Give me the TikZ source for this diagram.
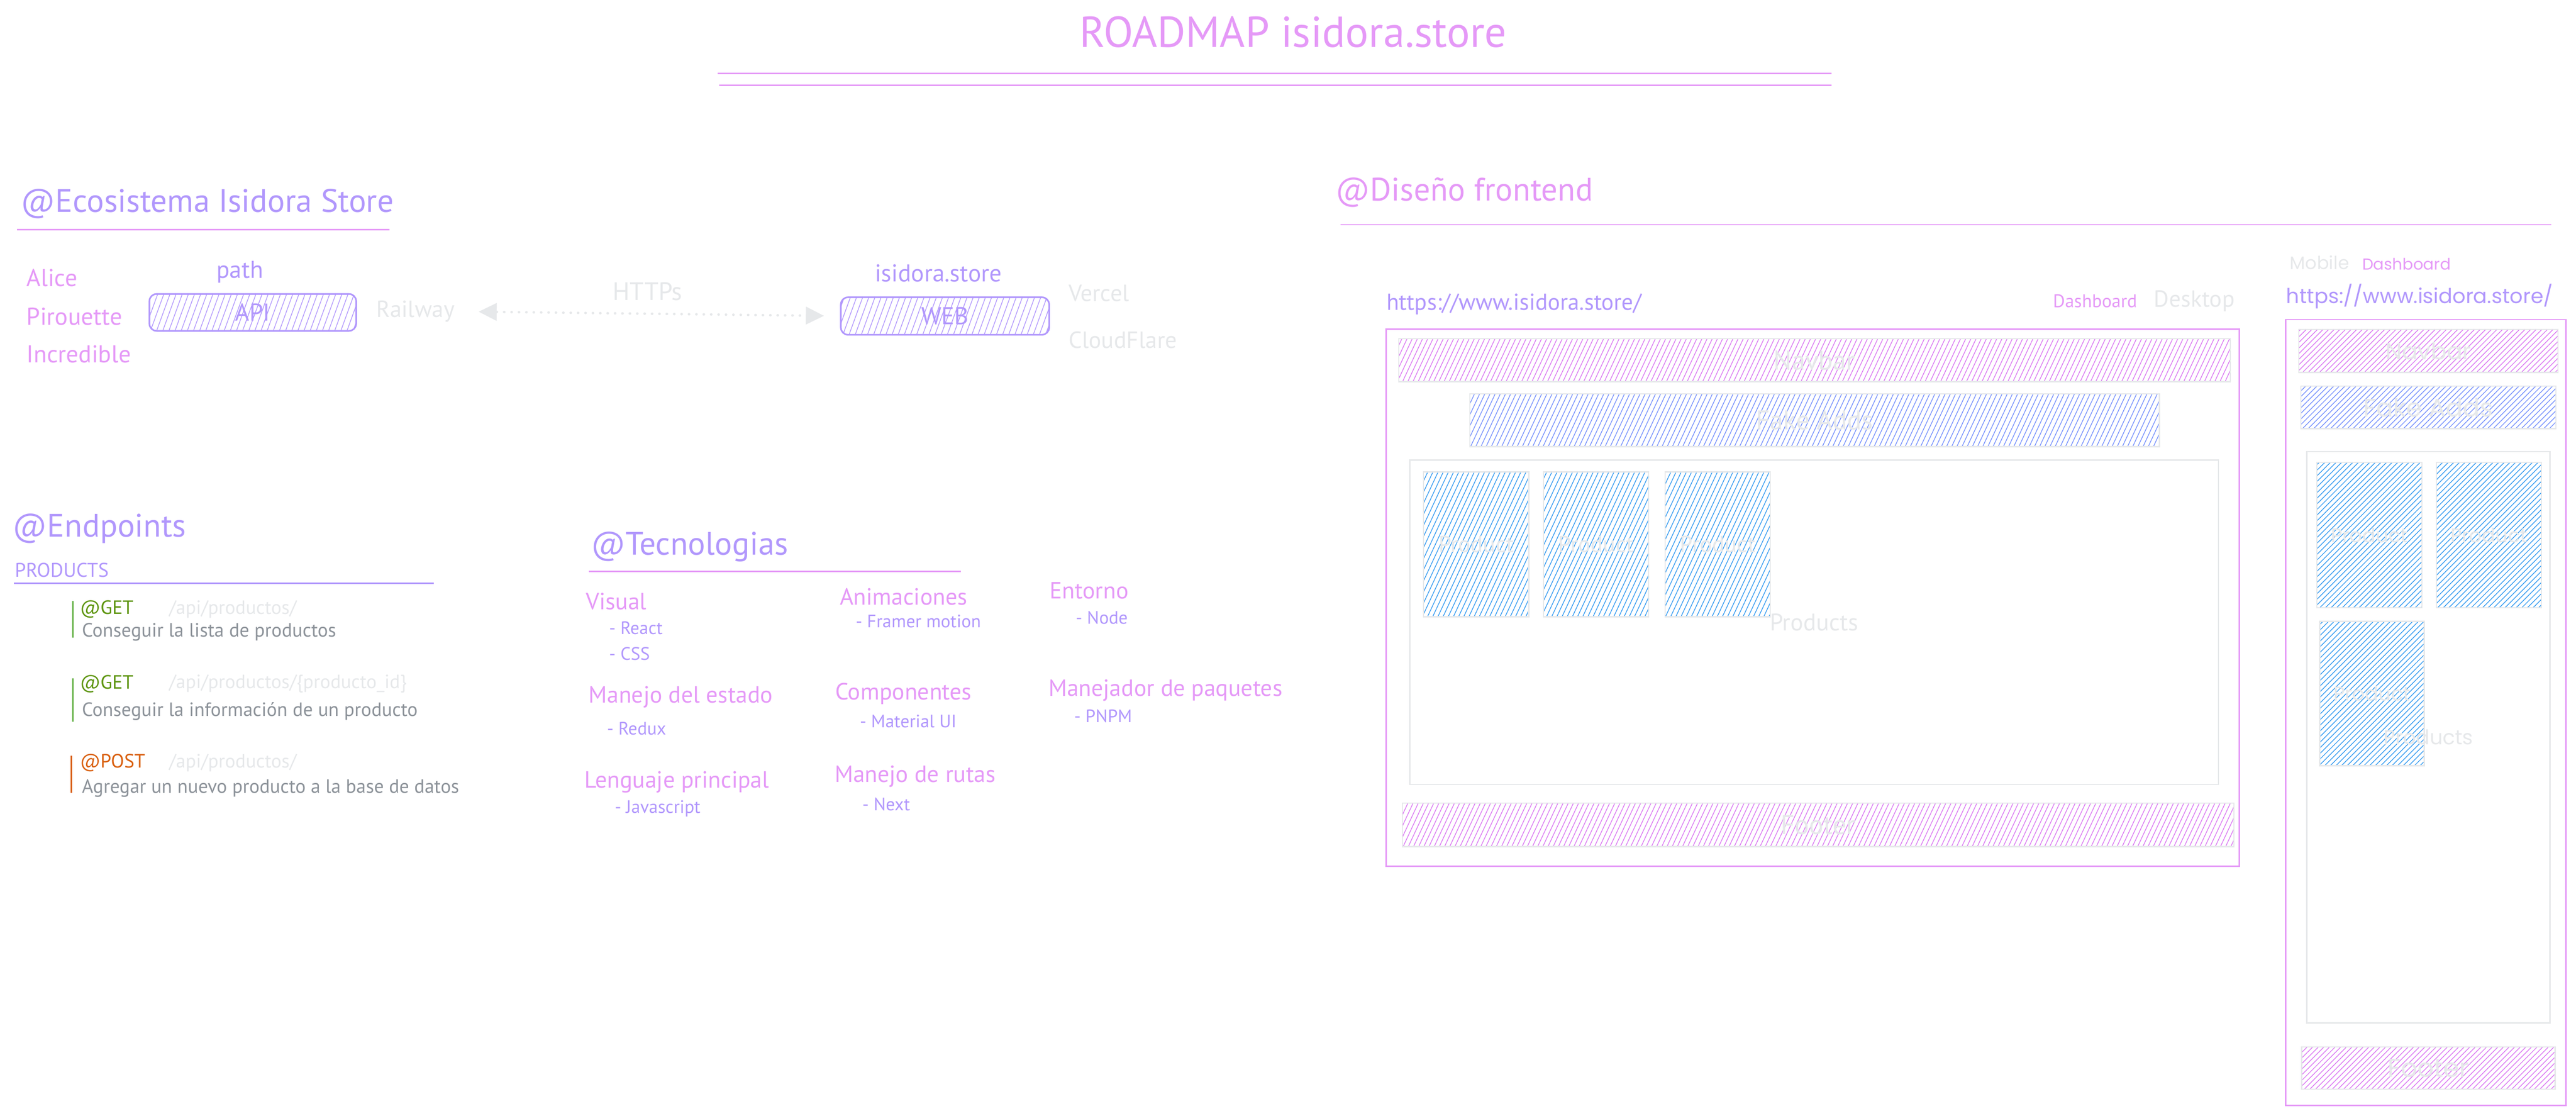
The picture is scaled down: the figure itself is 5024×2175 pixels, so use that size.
\documentclass[tikz,border=0pt]{standalone}
\usepackage{fontspec}
\setmainfont{PT Sans}
\newfontfamily\mobilefont{Poppins}
\usetikzlibrary{positioning,arrows.meta,patterns.meta}

\definecolor{grape}{HTML}{E599F7}
\definecolor{grapehatch}{HTML}{DA77F2}
\definecolor{violetc}{HTML}{B197FC}
\definecolor{indigohatch}{HTML}{748FFC}
\definecolor{bluehatch}{HTML}{339AF0}
\definecolor{ghost}{HTML}{E6E8EA}
\definecolor{slate}{HTML}{8C9299}
\definecolor{getgreen}{HTML}{5C940D}
\definecolor{getbar}{HTML}{69B34C}
\definecolor{postorange}{HTML}{D9600F}

\begin{document}
\begin{tikzpicture}[x=0.01cm, y=-0.01cm,
  every node/.style={inner sep=0pt, outer sep=0pt},
  title/.style={font=\fontsize{24}{28}\selectfont, text=grape},
  section/.style={anchor=west, font=\fontsize{18}{22}\selectfont, text=violetc},
  rule/.style={line width=0.8pt},
  crew/.style={anchor=west, font=\fontsize{13.5}{16}\selectfont, text=grape},
  host/.style={font=\fontsize{13.5}{16}\selectfont, text=violetc},
  infra/.style={anchor=west, font=\fontsize{13}{16}\selectfont, text=ghost},
  service/.style={draw=violetc, line width=0.9pt, rounded corners=4pt,
    pattern={Lines[angle=70,distance=3.2pt,line width=0.4pt]}, pattern color=violetc,
    text=violetc, font=\fontsize{13.5}{16}\selectfont},
  httpslink/.style={draw=ghost, line width=1.4pt, dash pattern=on 0.1pt off 4pt,
    line cap=round, {Triangle[length=10pt,width=10pt,fill=ghost,line width=0pt]}-{Triangle[length=10pt,width=10pt,fill=ghost,line width=0pt]}},
  verb/.style={anchor=west, font=\fontsize{10.7}{13}\selectfont},
  route/.style={anchor=west, font=\fontsize{10.7}{13}\selectfont, text=ghost},
  note/.style={anchor=west, font=\fontsize{10.7}{13}\selectfont, text=slate},
  methodbar/.style={line width=0.7pt},
  topic/.style={anchor=west, font=\fontsize{13}{16}\selectfont, text=grape},
  tool/.style={anchor=west, font=\fontsize{10}{12}\selectfont, text=violetc},
  frame/.style={draw=grape, line width=0.8pt},
  block/.style={draw=ghost, line width=0.7pt, text=ghost, font=\fontsize{15}{18}\selectfont},
  deskhatch/.style={pattern={Lines[angle=65,distance=2.6pt,line width=0.4pt]}},
  mobhatch/.style={pattern={Lines[angle=45,distance=2.2pt,line width=0.4pt]}}]

  \useasboundingbox (0,0) rectangle (5024,2175);

  % title
  \node [title] (roadmap) at (2522,62) {ROADMAP isidora.store};
  \draw [rule, grape] (1400,143) -- (3572,143);
  \draw [rule, grape] (1403,166) -- (3572,166);

  % ecosystem: api, web and where they live
  \begin{scope}
    \node [section] (eco) at (41,397) {@Ecosistema Isidora Store};
    \draw [rule, grape] (33,448) -- (760,448);
    \node [crew] (alice) at (52,542) {Alice};
    \node [crew] (pirouette) at (52,617) {Pirouette};
    \node [crew] (incredible) at (52,690) {Incredible};
    \node [host] (path) at (468,530) {path};
    \node [service, minimum width=4.03cm, minimum height=0.72cm] (api) at (493,609) {API};
    \node [infra] (railway) at (734,607) {Railway};
    \node [host] (store) at (1830,533) {isidora.store};
    \node [service, minimum width=4.06cm, minimum height=0.73cm] (web) at (1843,616) {WEB};
    \node [infra] (vercel) at (2084,572) {Vercel};
    \node [infra] (cloudflare) at (2084,663) {CloudFlare};
    \draw [httpslink, shorten <=0.47cm, shorten >=0.33cm] (railway.east) -- node [above=0.26cm, text=ghost, font=\fontsize{14}{16}\selectfont] (https) {HTTPs} (web.west);
  \end{scope}

  % endpoints
  \begin{scope}
    \node [section] (endpoints) at (25,1030) {@Endpoints};
    \node [anchor=west, text=violetc, font=\fontsize{11}{13}\selectfont] (products) at (29,1111) {PRODUCTS};
    \draw [rule, violetc] (27,1137) -- (846,1137);

    \draw [methodbar, getbar] (142,1172) -- (142,1243);
    \node [verb, text=getgreen] (getall) at (156,1188) {@GET};
    \node [route] (getallroute) at (330,1188) {/api/productos/};
    \node [note] (getallnote) at (160,1232) {Conseguir la lista de productos};

    \draw [methodbar, getbar] (142,1322) -- (142,1407);
    \node [verb, text=getgreen] (getone) at (156,1333) {@GET};
    \node [route] (getoneroute) at (330,1333) {/api/productos/\{producto\_id\}};
    \node [note] (getonenote) at (160,1387) {Conseguir la información de un producto};

    \draw [methodbar, postorange] (139,1473) -- (139,1545);
    \node [verb, text=postorange] (post) at (156,1487) {@POST};
    \node [route] (postroute) at (330,1487) {/api/productos/};
    \node [note] (postnote) at (160,1536) {Agregar un nuevo producto a la base de datos};
  \end{scope}

  % technologies
  \begin{scope}
    \node [section] (tecno) at (1153,1066) {@Tecnologias};
    \draw [rule, grape] (1148,1114) -- (1874,1114);
    \node [topic] (visual) at (1143,1172) {Visual};
    \node [tool] (react) at (1188,1224) {- React};
    \node [tool] (css) at (1188,1274) {- CSS};
    \node [topic] (estado) at (1148,1359) {Manejo del estado};
    \node [tool] (redux) at (1184,1420) {- Redux};
    \node [topic] (lenguaje) at (1140,1524) {Lenguaje principal};
    \node [tool] (js) at (1199,1576) {- Javascript};
    \node [topic] (anim) at (1638,1163) {Animaciones};
    \node [tool] (framer) at (1669,1211) {- Framer motion};
    \node [topic] (comp) at (1629,1352) {Componentes};
    \node [tool] (mui) at (1677,1406) {- Material UI};
    \node [topic] (rutas) at (1628,1513) {Manejo de rutas};
    \node [tool] (next) at (1682,1568) {- Next};
    \node [topic] (entorno) at (2047,1151) {Entorno};
    \node [tool] (node) at (2098,1204) {- Node};
    \node [topic] (paquetes) at (2045,1346) {Manejador de paquetes};
    \node [tool] (pnpm) at (2095,1396) {- PNPM};
  \end{scope}

  % frontend design, desktop
  \begin{scope}
    \node [section, text=grape] (diseno) at (2605,375) {@Diseño frontend};
    \draw [rule, grape] (2614,438) -- (4976,438);
    \node [anchor=west, text=violetc, font=\fontsize{12.8}{15}\selectfont] (deskurl) at (2704,593) {https://www.isidora.store/};
    \node [anchor=west, text=grape, font=\fontsize{10.2}{12}\selectfont] (deskdash) at (4004,587) {Dashboard};
    \node [anchor=west, text=ghost, font=\fontsize{12.9}{15}\selectfont] (desktop) at (4201,587) {Desktop};
    \node [frame, minimum width=16.63cm, minimum height=10.46cm] (deskframe) at (3535,1165) {};
    \node [block, deskhatch, pattern color=grapehatch, minimum width=16.21cm, minimum height=0.84cm] (desknav) at (3539,702) {Navbar};
    \node [block, deskhatch, pattern color=indigohatch, minimum width=13.44cm, minimum height=1.03cm] (deskads) at (3539,819) {Fake Adds};
    \node [block, font=\fontsize{13.3}{16}\selectfont, minimum width=15.76cm, minimum height=6.32cm] (deskproducts) at (3538,1213) {Products};
    \foreach \cx [count=\i] in {2879,3113,3350}
      \node [block, deskhatch, pattern color=bluehatch, font=\fontsize{12.8}{15}\selectfont, minimum width=2.05cm, minimum height=2.82cm] (deskcard\i) at (\cx,1061) {Product};
    \node [block, deskhatch, pattern color=grapehatch, minimum width=16.21cm, minimum height=0.85cm] (deskfooter) at (3546,1608) {Footer};
  \end{scope}

  % frontend design, mobile
  \begin{scope}[every node/.append style={font=\mobilefont}]
    \node [anchor=west, text=ghost, font=\mobilefont\fontsize{10}{12}\selectfont] (mobile) at (4466,512) {Mobile};
    \node [anchor=west, text=grape, font=\mobilefont\fontsize{8.8}{11}\selectfont] (mobdash) at (4607,515) {Dashboard};
    \node [anchor=west, text=violetc, font=\mobilefont\fontsize{11.4}{14}\selectfont] (moburl) at (4459,578) {https://www.isidora.store/};
    \node [frame, minimum width=5.47cm, minimum height=15.31cm] (mobframe) at (4731,1389) {};
    \node [block, mobhatch, pattern color=grapehatch, font=\mobilefont\fontsize{13}{15}\selectfont, minimum width=5.05cm, minimum height=0.84cm] (mobnav) at (4736,684) {Navbar};
    \node [block, mobhatch, pattern color=indigohatch, font=\mobilefont\fontsize{14}{16}\selectfont, minimum width=4.97cm, minimum height=0.83cm] (mobads) at (4736,794) {Fake Adds};
    \node [block, font=\mobilefont\fontsize{11.3}{14}\selectfont, minimum width=4.74cm, minimum height=11.13cm] (mobproducts) at (4736,1437) {};
    \node [block, mobhatch, pattern color=bluehatch, font=\mobilefont\fontsize{11}{13}\selectfont, minimum width=2.05cm, minimum height=2.83cm] (mobcard1) at (4621,1043) {Product};
    \node [block, mobhatch, pattern color=bluehatch, font=\mobilefont\fontsize{11}{13}\selectfont, minimum width=2.05cm, minimum height=2.83cm] (mobcard2) at (4854,1043) {Product};
    \node [block, mobhatch, pattern color=bluehatch, font=\mobilefont\fontsize{11}{13}\selectfont, minimum width=2.04cm, minimum height=2.81cm] (mobcard3) at (4626,1352) {Product};
    \node [text=ghost, font=\mobilefont\fontsize{11.3}{14}\selectfont] (moblabel) at (mobproducts.center) {Products};
    \node [block, mobhatch, pattern color=grapehatch, font=\mobilefont\fontsize{14.3}{16}\selectfont, minimum width=4.94cm, minimum height=0.82cm] (mobfooter) at (4736,2082) {Footer};
  \end{scope}
\end{tikzpicture}
\end{document}
